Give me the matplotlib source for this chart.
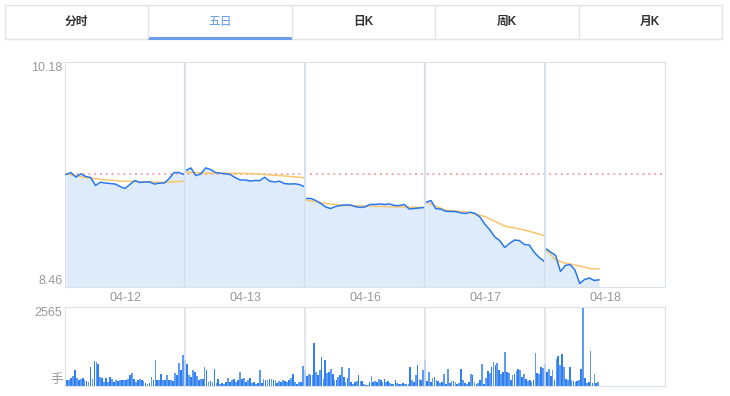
import matplotlib
matplotlib.use("Agg")
import matplotlib.pyplot as plt
import numpy as np
from matplotlib.patches import Rectangle

plt.rcParams['font.family'] = ['Liberation Sans', 'Noto Sans CJK SC', 'DejaVu Sans']

# tabs
tab_labels = ["分时", "五日", "日K", "周K", "月K"]
active_tab = 1

# five-day price, one list per day (10 minute steps)
dates = ["04-12", "04-13", "04-16", "04-17", "04-18"]
prev_close = 9.32
price_low, price_high = 8.46, 10.18
price_day1 = [9.320, 9.335, 9.300, 9.325, 9.305, 9.297, 9.236, 9.261, 9.255, 9.251, 9.247, 9.228, 9.213,
              9.244, 9.274, 9.259, 9.263, 9.263, 9.247, 9.254, 9.255, 9.289, 9.335, 9.335, 9.320]
price_day2 = [9.351, 9.370, 9.312, 9.324, 9.370, 9.358, 9.335, 9.330, 9.325, 9.320, 9.297, 9.278, 9.278,
              9.270, 9.274, 9.274, 9.299, 9.270, 9.263, 9.269, 9.251, 9.247, 9.249, 9.244, 9.228]
price_day3 = [9.137, 9.137, 9.121, 9.098, 9.072, 9.060, 9.075, 9.083, 9.087, 9.087, 9.075, 9.068, 9.072,
              9.091, 9.091, 9.095, 9.091, 9.095, 9.083, 9.083, 9.091, 9.056, 9.060, 9.064, 9.068]
price_day4 = [9.108, 9.121, 9.058, 9.056, 9.039, 9.037, 9.037, 9.027, 9.022, 9.032, 9.022, 8.994, 8.938,
              8.896, 8.842, 8.815, 8.762, 8.793, 8.819, 8.815, 8.785, 8.781, 8.726, 8.686, 8.657]
price_day5 = [8.752, 8.726, 8.701, 8.579, 8.624, 8.632, 8.590, 8.487, 8.517, 8.529, 8.510, 8.515]

# average price line
avg_day1 = [9.325, 9.297, 9.278, 9.269, 9.264, 9.260, 9.269]
avg_day2 = [9.338, 9.330, 9.330, 9.328, 9.320, 9.309, 9.295]
avg_day3 = [9.125, 9.098, 9.083, 9.079, 9.075, 9.072, 9.068]
avg_day4 = [9.108, 9.047, 9.035, 8.999, 8.926, 8.896, 8.854]
avg_day5 = [8.747, 8.670, 8.645, 8.632, 8.617, 8.601, 8.599]

# volume (hands)
vol_max = 2565
vol_day1 = [184, 205, 270, 313, 508, 270, 184, 238, 248, 205, 162, 130, 616, 238, 800, 778, 724, 292, 270, 130,
            270, 130, 292, 238, 130, 184, 162, 184, 205, 184, 205, 238, 346, 421, 238, 130, 184, 238, 184, 162,
            97, 76, 97, 292, 184, 832, 184, 184, 400, 184, 205, 346, 184, 205, 162, 421, 346, 745, 508, 994, 832]
vol_day2 = [702, 346, 292, 529, 454, 313, 205, 238, 238, 616, 529, 130, 151, 130, 562, 97, 216, 76, 97, 76,
            130, 270, 130, 184, 238, 130, 205, 454, 238, 270, 130, 184, 270, 97, 130, 76, 97, 508, 97, 238,
            205, 184, 216, 238, 184, 205, 97, 162, 130, 184, 162, 130, 184, 270, 378, 130, 76, 130, 130, 637, 529]
vol_day3 = [313, 378, 346, 346, 1393, 454, 346, 529, 940, 238, 832, 421, 454, 562, 378, 205, 205, 292, 346, 616,
            292, 130, 270, 594, 130, 76, 130, 162, 346, 162, 162, 76, 22, 22, 130, 313, 130, 162, 130, 238,
            205, 130, 238, 130, 162, 97, 54, 76, 205, 97, 54, 76, 97, 76, 54, 76, 616, 184, 130, 346,
            670, 238, 205, 508, 853]
vol_day4 = [151, 454, 130, 270, 292, 205, 162, 97, 130, 400, 76, 562, 97, 151, 162, 130, 76, 97, 562, 184,
            97, 76, 130, 400, 346, 130, 76, 97, 184, 724, 76, 270, 486, 421, 616, 778, 670, 745, 508, 378,
            454, 1102, 454, 421, 205, 346, 400, 486, 562, 508, 292, 378, 238, 162, 184, 130, 205, 1069, 421, 378,
            616, 594, 724]
vol_day5 = [454, 562, 313, 508, 205, 886, 962, 670, 1048, 616, 238, 184, 616, 184, 162, 130, 162, 184, 562, 2565,
            270, 97, 130, 1123, 97, 378, 97, 130]

W, H = 730, 396
fig = plt.figure(figsize=(W / 100, H / 100), dpi=100)


def fx(px):
    return px / W


def fy(py):
    return 1 - py / H


# ---- tab bar ----
border = "#e2e4e8"
fig.patches.append(Rectangle((fx(5), fy(39)), fx(717), 34 / H, transform=fig.transFigure,
                             facecolor="white", edgecolor=border, lw=1))
tab_w = 717 / len(tab_labels)
for i, lab in enumerate(tab_labels):
    left = 5 + i * tab_w
    if i > 0:
        fig.add_artist(plt.Line2D([fx(left), fx(left)], [fy(6), fy(38)], color=border, lw=1))
    col = "#5b97ea" if i == active_tab else "#333333"
    fig.text(fx(left + tab_w / 2), fy(22), lab, ha="center", va="center", fontsize=8.5,
             fontweight="normal" if i == active_tab else "bold", color=col)
    if i == active_tab:
        fig.patches.append(Rectangle((fx(left), fy(40)), fx(tab_w), 3 / H, transform=fig.transFigure,
                                     facecolor="#6a9cec", edgecolor="none"))

# ---- price chart ----
grid_col = "#dde1e8"
ax = fig.add_axes([fx(65), fy(287), fx(600), 225 / H])
ax.set_xlim(0, 1200)
ax.set_ylim(price_low, price_high)
prices = [price_day1, price_day2, price_day3, price_day4, price_day5]
avgs = [avg_day1, avg_day2, avg_day3, avg_day4, avg_day5]
for d, (p, a) in enumerate(zip(prices, avgs)):
    span = 240 if d < 4 else 10 * (len(p) - 1)
    x = 240 * d + 2 + np.linspace(0, span - 4, len(p))
    ax.fill_between(x, price_low, p, color="#deebfb", lw=0, zorder=1)
    ax.plot(x, p, color="#2a78ee", lw=1.1, zorder=4)
    xa = 240 * d + 2 + np.linspace(0, span - 4, len(a))
    ax.plot(xa, a, color="#f6c56c", lw=1.1, zorder=3)
ax.axhline(prev_close, color="#f3a7a7", lw=1.4, ls=(0, (1, 2)), zorder=2)
for d in range(1, 5):
    ax.axvline(240 * d, color="#d3e1ee", lw=1.5, zorder=5)
for s in ax.spines.values():
    s.set_color(grid_col)
ax.set_xticks([])
ax.set_yticks([])
ax.text(-5, price_high, "%.2f" % price_high, transform=ax.transData, ha="right", va="top",
        fontsize=9, color="#999999")
ax.text(-5, price_low, "%.2f" % price_low, transform=ax.transData, ha="right", va="bottom",
        fontsize=9, color="#999999")
for d, lab in enumerate(dates):
    fig.text(fx(65 + 120 * d + 60), fy(298), lab, ha="center", va="center", fontsize=9, color="#999999")

# ---- volume chart ----
vax = fig.add_axes([fx(65), fy(386), fx(600), 79 / H])
vax.set_xlim(0, 1200)
vax.set_ylim(0, vol_max)
vols = [vol_day1, vol_day2, vol_day3, vol_day4, vol_day5]
for d, v in enumerate(vols):
    step = 240 / len(v) if d < 4 else 3.8
    x = 240 * d + 2 + np.arange(len(v)) * step
    cols = ["#2f7ff2" if i % 2 == 0 else "#5e9cf3" for i in range(len(v))]
    vax.bar(x, v, width=step * 0.9, color=cols, lw=0, align="edge", antialiased=False)
for d in range(1, 5):
    vax.axvline(240 * d, color=grid_col, lw=1.2)
for s in vax.spines.values():
    s.set_color(grid_col)
vax.set_xticks([])
vax.set_yticks([])
vax.text(-5, vol_max, str(vol_max), ha="right", va="top", fontsize=9, color="#999999")
vax.text(-5, 0, "手", ha="right", va="bottom", fontsize=9, color="#999999")

fig.savefig("out.png", dpi=100)
